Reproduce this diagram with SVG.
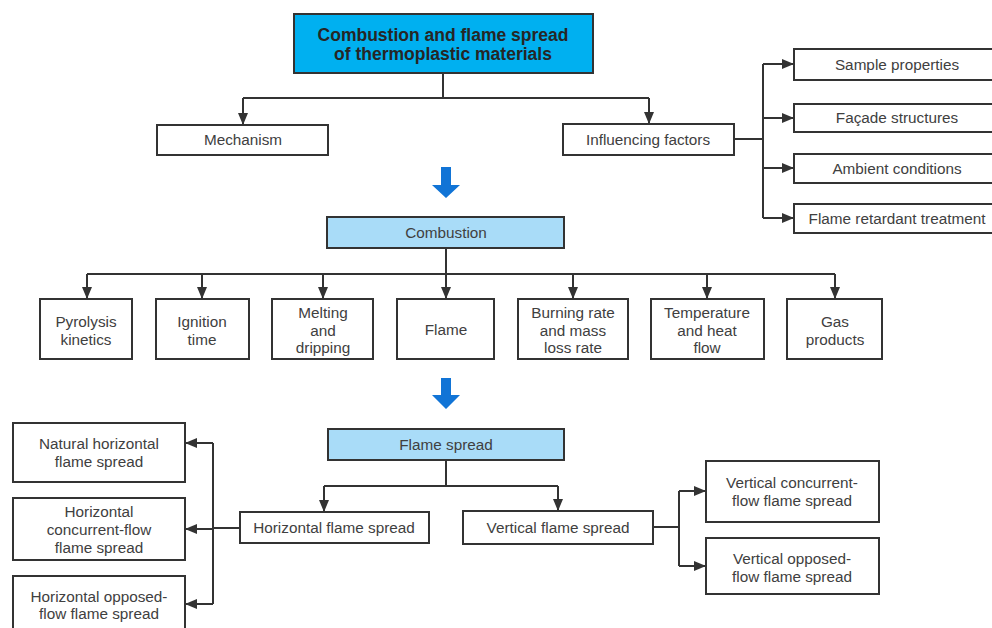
<svg xmlns="http://www.w3.org/2000/svg" width="992" height="628" viewBox="0 0 992 628">
<style>
.box{fill:#ffffff;stroke:#333333;stroke-width:2}
.main{fill:#00B0F0;stroke:#333333;stroke-width:2}
.sub{fill:#A9DCF8;stroke:#333333;stroke-width:2}
.t{font-family:"Liberation Sans",Arial,sans-serif;font-size:15.3px;fill:#404040;text-anchor:middle}
.tb{font-family:"Liberation Sans",Arial,sans-serif;font-size:17.5px;font-weight:bold;fill:#262626;text-anchor:middle}
.ln{fill:none;stroke:#333333;stroke-width:2}
.ar{fill:none;stroke:#333333;stroke-width:2;marker-end:url(#ah)}
.blue{fill:#1174D6}
</style>
<defs>
<marker id="ah" markerUnits="userSpaceOnUse" viewBox="0 0 12 10" markerWidth="12" markerHeight="10" refX="12" refY="5" orient="auto">
<path d="M0,0 L12,5 L0,10 z" fill="#333333"/>
</marker>
</defs>
<rect width="992" height="628" fill="#ffffff"/>

<g id="connectors">
<path class="ln" d="M443,73 V98 H649"/>
<path class="ar" d="M243,98 H443 M243,98 V125"/>
<path class="ar" d="M649,98 V124"/>
<path class="ln" d="M734,139 H763 M763,64 V218"/>
<path class="ar" d="M763,64 H794"/>
<path class="ar" d="M763,118 H794"/>
<path class="ar" d="M763,168 H794"/>
<path class="ar" d="M763,218 H794"/>
<path class="ln" d="M446,248 V274 M87,274 H835"/>
<path class="ar" d="M87,274 V299"/>
<path class="ar" d="M202,274 V299"/>
<path class="ar" d="M323,274 V299"/>
<path class="ar" d="M446,274 V299"/>
<path class="ar" d="M573,274 V299"/>
<path class="ar" d="M707,274 V299"/>
<path class="ar" d="M835,274 V299"/>
<path class="ln" d="M446,460 V486 M324,486 H558"/>
<path class="ar" d="M324,486 V512"/>
<path class="ar" d="M558,486 V511"/>
<path class="ln" d="M240,528 H213 M213,443 V604"/>
<path class="ar" d="M213,443 H185"/>
<path class="ar" d="M213,529 H185"/>
<path class="ar" d="M213,604 H185"/>
<path class="ln" d="M653,527 H679 M679,491 V566"/>
<path class="ar" d="M679,491 H706"/>
<path class="ar" d="M679,566 H706"/>
</g>

<g id="flow-arrows">
<polygon class="blue" points="441,167 451,167 451,185 460,185 446,198 432,185 441,185"/>
<polygon class="blue" points="441,378 451,378 451,395 460,395 446,409 432,395 441,395"/>
</g>

<g id="n-title">
<rect class="main" x="294" y="14" width="299" height="59"/>
<text class="tb" x="443" y="41">Combustion and flame spread</text>
<text class="tb" x="443" y="60">of thermoplastic materials</text>
</g>
<g id="n-mechanism">
<rect class="box" x="157" y="125" width="171" height="30"/>
<text class="t" x="243" y="145">Mechanism</text>
</g>
<g id="n-influencing">
<rect class="box" x="563" y="124" width="171" height="31"/>
<text class="t" x="648" y="145">Influencing factors</text>
</g>
<g id="n-sample">
<rect class="box" x="794" y="49" width="206" height="31"/>
<text class="t" x="897" y="70">Sample properties</text>
</g>
<g id="n-facade">
<rect class="box" x="794" y="104" width="206" height="28"/>
<text class="t" x="897" y="123">Façade structures</text>
</g>
<g id="n-ambient">
<rect class="box" x="794" y="154" width="206" height="29"/>
<text class="t" x="897" y="174">Ambient conditions</text>
</g>
<g id="n-retardant">
<rect class="box" x="794" y="204" width="206" height="29"/>
<text class="t" x="897" y="224">Flame retardant treatment</text>
</g>

<g id="n-combustion">
<rect class="sub" x="327" y="217" width="237" height="31"/>
<text class="t" x="446" y="238">Combustion</text>
</g>
<g id="n-pyrolysis">
<rect class="box" x="40" y="299" width="92" height="60"/>
<text class="t" x="86" y="327">Pyrolysis</text>
<text class="t" x="86" y="344.5">kinetics</text>
</g>
<g id="n-ignition">
<rect class="box" x="156" y="299" width="93" height="60"/>
<text class="t" x="202" y="327">Ignition</text>
<text class="t" x="202" y="344.5">time</text>
</g>
<g id="n-melting">
<rect class="box" x="272" y="299" width="101" height="60"/>
<text class="t" x="323" y="318">Melting</text>
<text class="t" x="323" y="335.5">and</text>
<text class="t" x="323" y="353">dripping</text>
</g>
<g id="n-flame">
<rect class="box" x="397" y="299" width="97" height="60"/>
<text class="t" x="446" y="335">Flame</text>
</g>
<g id="n-burning">
<rect class="box" x="518" y="299" width="110" height="60"/>
<text class="t" x="573" y="318">Burning rate</text>
<text class="t" x="573" y="335.5">and mass</text>
<text class="t" x="573" y="353">loss rate</text>
</g>
<g id="n-temperature">
<rect class="box" x="651" y="299" width="113" height="60"/>
<text class="t" x="707" y="318">Temperature</text>
<text class="t" x="707" y="335.5">and heat</text>
<text class="t" x="707" y="353">flow</text>
</g>
<g id="n-gas">
<rect class="box" x="787" y="299" width="95" height="60"/>
<text class="t" x="835" y="327">Gas</text>
<text class="t" x="835" y="344.5">products</text>
</g>

<g id="n-flamespread">
<rect class="sub" x="328" y="429" width="236" height="31"/>
<text class="t" x="446" y="450">Flame spread</text>
</g>
<g id="n-horizontal">
<rect class="box" x="240" y="512" width="189" height="31"/>
<text class="t" x="334" y="533">Horizontal flame spread</text>
</g>
<g id="n-vertical">
<rect class="box" x="463" y="511" width="190" height="33"/>
<text class="t" x="558" y="533">Vertical flame spread</text>
</g>
<g id="n-natural">
<rect class="box" x="13" y="423" width="172" height="59"/>
<text class="t" x="99" y="449">Natural horizontal</text>
<text class="t" x="99" y="467">flame spread</text>
</g>
<g id="n-hconcurrent">
<rect class="box" x="13" y="498" width="172" height="62"/>
<text class="t" x="99" y="517">Horizontal</text>
<text class="t" x="99" y="535">concurrent-flow</text>
<text class="t" x="99" y="553">flame spread</text>
</g>
<g id="n-hopposed">
<rect class="box" x="13" y="576" width="172" height="64"/>
<text class="t" x="99" y="601.5">Horizontal opposed-</text>
<text class="t" x="99" y="619">flow flame spread</text>
</g>
<g id="n-vconcurrent">
<rect class="box" x="706" y="461" width="173" height="61"/>
<text class="t" x="792" y="488">Vertical concurrent-</text>
<text class="t" x="792" y="506">flow flame spread</text>
</g>
<g id="n-vopposed">
<rect class="box" x="706" y="538" width="173" height="56"/>
<text class="t" x="792" y="564">Vertical opposed-</text>
<text class="t" x="792" y="582">flow flame spread</text>
</g>
</svg>
